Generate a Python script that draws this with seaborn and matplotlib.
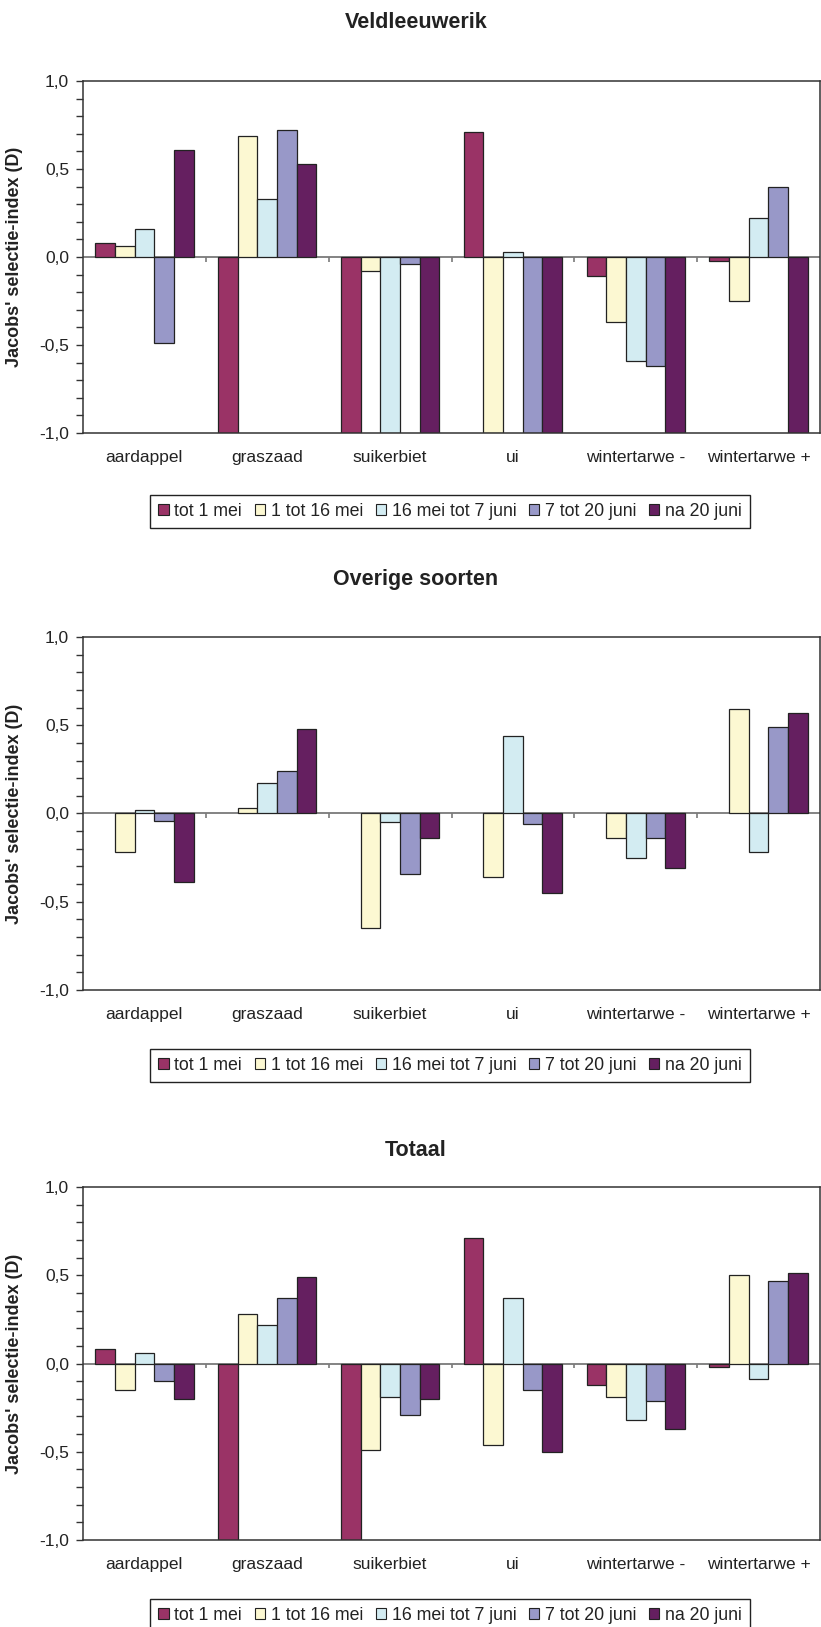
import numpy as np
import pandas as pd
import matplotlib
matplotlib.use("Agg")
import matplotlib.pyplot as plt
import seaborn as sns
from matplotlib.patches import Patch
from matplotlib.ticker import MultipleLocator, FuncFormatter

# Crops and sampling periods
categories = ["aardappel", "graszaad", "suikerbiet", "ui", "wintertarwe -", "wintertarwe +"]
periods = ["tot 1 mei", "1 tot 16 mei", "16 mei tot 7 juni", "7 tot 20 juni", "na 20 juni"]
colors = ["#9a3366", "#fcf8d2", "#d3ecf2", "#9898c8", "#651f60"]

# Jacobs' selection index per period (one list per period, ordered like categories)
veld_tot1mei = [0.08, -1.0, -1.0, 0.71, -0.11, -0.02]
veld_1tot16mei = [0.06, 0.69, -0.08, -1.0, -0.37, -0.25]
veld_16meitot7juni = [0.16, 0.33, -1.0, 0.03, -0.59, 0.22]
veld_7tot20juni = [-0.49, 0.72, -0.04, -1.0, -0.62, 0.40]
veld_na20juni = [0.61, 0.53, -1.0, -1.0, -1.0, -1.0]

over_tot1mei = [np.nan, np.nan, np.nan, np.nan, np.nan, np.nan]
over_1tot16mei = [-0.22, 0.03, -0.65, -0.36, -0.14, 0.59]
over_16meitot7juni = [0.02, 0.17, -0.05, 0.44, -0.25, -0.22]
over_7tot20juni = [-0.04, 0.24, -0.34, -0.06, -0.14, 0.49]
over_na20juni = [-0.39, 0.48, -0.14, -0.45, -0.31, 0.57]

tot_tot1mei = [0.08, -1.0, -1.0, 0.71, -0.12, -0.02]
tot_1tot16mei = [-0.15, 0.28, -0.49, -0.46, -0.19, 0.50]
tot_16meitot7juni = [0.06, 0.22, -0.19, 0.37, -0.32, -0.09]
tot_7tot20juni = [-0.10, 0.37, -0.29, -0.15, -0.21, 0.47]
tot_na20juni = [-0.20, 0.49, -0.20, -0.50, -0.37, 0.51]

titles = ["Veldleeuwerik", "Overige soorten", "Totaal"]
series = [
    [veld_tot1mei, veld_1tot16mei, veld_16meitot7juni, veld_7tot20juni, veld_na20juni],
    [over_tot1mei, over_1tot16mei, over_16meitot7juni, over_7tot20juni, over_na20juni],
    [tot_tot1mei, tot_1tot16mei, tot_16meitot7juni, tot_7tot20juni, tot_na20juni],
]

sns.set_theme(style="white")
plt.rcParams["font.family"] = ["Liberation Sans", "DejaVu Sans"]
plt.rcParams["text.color"] = "#222222"
plt.rcParams["xtick.color"] = "#333333"
plt.rcParams["ytick.color"] = "#333333"

W, H = 821, 1627
fig = plt.figure(figsize=(W / 100, H / 100), dpi=100)
fig.patch.set_facecolor("white")

# pixel layout of each panel: axes top, axes bottom, title y, legend centre y
layout = [(81, 433, 23, 511), (637, 990, 579, 1065), (1187, 1540, 1150, 1615)]
ax_left, ax_right = 83, 820
palette = dict(zip(periods, colors))
fmt = FuncFormatter(lambda v, _: f"{v:.1f}".replace(".", ","))

for title, vals, (top, bot, ty, ly) in zip(titles, series, layout):
    df = pd.DataFrame({
        "gewas": np.tile(categories, len(periods)),
        "periode": np.repeat(periods, len(categories)),
        "D": np.concatenate([np.asarray(v, dtype=float) for v in vals]),
    })
    ax = fig.add_axes([ax_left / W, 1 - bot / H, (ax_right - ax_left) / W, (bot - top) / H])
    ax.axhline(0, color="#7a7a7a", lw=1.3, zorder=1)
    sns.barplot(data=df, x="gewas", y="D", hue="periode", order=categories,
                hue_order=periods, palette=palette, saturation=1, width=0.8,
                errorbar=None, edgecolor="#222222", linewidth=0.9, legend=False,
                ax=ax, zorder=2)
    ax.set_xlim(-0.5, len(categories) - 0.5)
    ax.set_ylim(-1, 1)
    # category separators on the zero line
    ax.vlines(np.arange(len(categories) - 1) + 0.5, 0, -0.028, color="#7a7a7a", lw=1.2, zorder=1)
    ax.yaxis.set_major_locator(MultipleLocator(0.5))
    ax.yaxis.set_minor_locator(MultipleLocator(0.1))
    ax.yaxis.set_major_formatter(fmt)
    ax.tick_params(axis="y", which="both", left=True, direction="out", length=5,
                   width=1, labelsize=12.5, pad=5, labelcolor="#222222")
    ax.tick_params(axis="x", length=0, pad=12, labelsize=12.5, labelcolor="#222222")
    ax.set_xlabel("")
    ax.set_ylabel("")
    for s in ax.spines.values():
        s.set_visible(True)
        s.set_color("#333333")
        s.set_linewidth(1.1)
    fig.text(416 / W, 1 - ty / H, title, ha="center", va="center",
             fontsize=15.5, fontweight="bold", color="#222222")
    fig.text(15 / W, 1 - ((top + bot) / 2) / H, "Jacobs' selectie-index (D)",
             rotation=90, ha="center", va="center", fontsize=13,
             fontweight="bold", color="#222222")
    handles = [Patch(facecolor=c, edgecolor="#222222", linewidth=0.8) for c in colors]
    leg = fig.legend(handles, periods, loc="center",
                     bbox_to_anchor=(450 / W, 1 - ly / H), ncol=5, frameon=True,
                     fancybox=False, edgecolor="#222222", framealpha=1,
                     fontsize=12.8, handlelength=0.6, handleheight=0.6,
                     handletextpad=0.3, columnspacing=0.7, borderpad=0.45,
                     borderaxespad=0.0)
    leg.get_frame().set_linewidth(1.0)

fig.savefig("out.png", dpi=100, facecolor="white")
